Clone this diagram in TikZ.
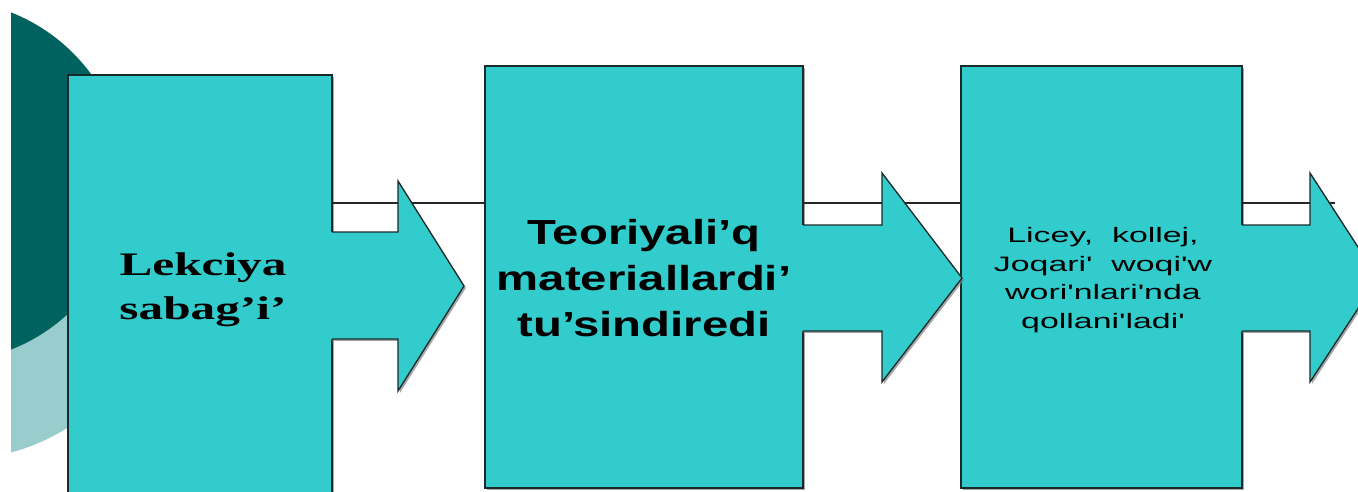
\documentclass[tikz,border=0pt]{standalone}
\usepackage{fontspec}
\usetikzlibrary{shadows}
\newfontfamily\timesf{Liberation Serif}
\newfontfamily\arialf{Liberation Sans}
\definecolor{tealfill}{HTML}{33CCCC}
\definecolor{darkcirc}{HTML}{00625E}
\definecolor{lightcirc}{HTML}{99CCCC}
\definecolor{edge}{HTML}{1A2A2A}
\newcommand{\sx}[2]{\scalebox{#1}[1]{#2}}
\begin{document}
\begin{tikzpicture}[x=0.02cm,y=-0.02cm,
  box/.style={draw=edge, line width=0.75pt, fill=tealfill, inner sep=0pt,
    minimum height=8.44cm,
    drop shadow={shadow xshift=1.1pt, shadow yshift=-1.1pt, fill=black!50, opacity=0.7}},
  arrowbody/.style={fill=tealfill,
    drop shadow={shadow xshift=1.1pt, shadow yshift=-1.1pt, fill=black!50, opacity=0.7}},
  arrowedge/.style={draw=edge, line width=0.75pt, line join=miter},
  conn/.style={draw=black!85, line width=0.75pt},
  txt/.style={inner sep=0pt, align=center, text=black}]
\useasboundingbox (0,0) rectangle (1358,491);
% background circles
\begin{scope}
  \clip (11,0) rectangle (1358,491);
  \fill[lightcirc] (-40,259) circle[radius=200];
  \fill[darkcirc] (-55,181) circle[radius=181];
\end{scope}
% boxes
\node[box, minimum width=5.28cm] (b1) at (200,286) {};
\node[box, minimum width=6.36cm] (b2) at (644,277) {};
\node[box, minimum width=5.62cm] (b3) at (1101.5,277) {};
% connector lines
\coordinate (lh) at (0,203);
\coordinate (e3) at (1335,203);
\draw[conn] (b1.east |- lh) -- (b2.west |- lh);
\draw[conn] (b2.east |- lh) -- (b3.west |- lh);
\draw[conn] (b3.east |- lh) -- (e3);
% block arrows
\path[arrowbody] (330,232) -- (398,232) -- (398,181) -- (464,286) -- (398,391) -- (398,339) -- (330,339) -- cycle;
\draw[arrowedge] (332,232) -- (398,232) -- (398,181) -- (464,286) -- (398,391) -- (398,339) -- (332,339);
\path[arrowbody] (801,225) -- (882,225) -- (882,173) -- (962,278) -- (882,382) -- (882,331) -- (801,331) -- cycle;
\draw[arrowedge] (803,225) -- (882,225) -- (882,173) -- (962,278) -- (882,382) -- (882,331) -- (803,331);
\path[arrowbody] (1240,225) -- (1310,225) -- (1310,173) -- (1378,278) -- (1310,382) -- (1310,331) -- (1240,331) -- cycle;
\draw[arrowedge] (1242,225) -- (1310,225) -- (1310,173) -- (1378,278) -- (1310,382) -- (1310,331) -- (1242,331);
% texts
\node[txt, font={\timesf\bfseries\fontsize{18.7}{24.9}\selectfont}] (t1) at (203,290)
  {\sx{1.5}{Lekciya}\\\sx{1.5}{sabag’i’}};
\node[txt, font={\arialf\bfseries\fontsize{19.8}{26.1}\selectfont}] (t2) at (644,278)
  {\sx{1.36}{Teoriyali’q}\\\sx{1.36}{materiallardi’}\\\sx{1.36}{tu’sindiredi}};
\node[txt, font={\arialf\fontsize{11.9}{16.2}\selectfont}] (t3) at (1103,280)
  {\sx{1.62}{Licey,\ \ kollej,}\\\sx{1.62}{Joqari'\ \ woqi'w}\\\sx{1.62}{wori'nlari'nda}\\\sx{1.62}{qollani'ladi'}};
\end{tikzpicture}
\end{document}
